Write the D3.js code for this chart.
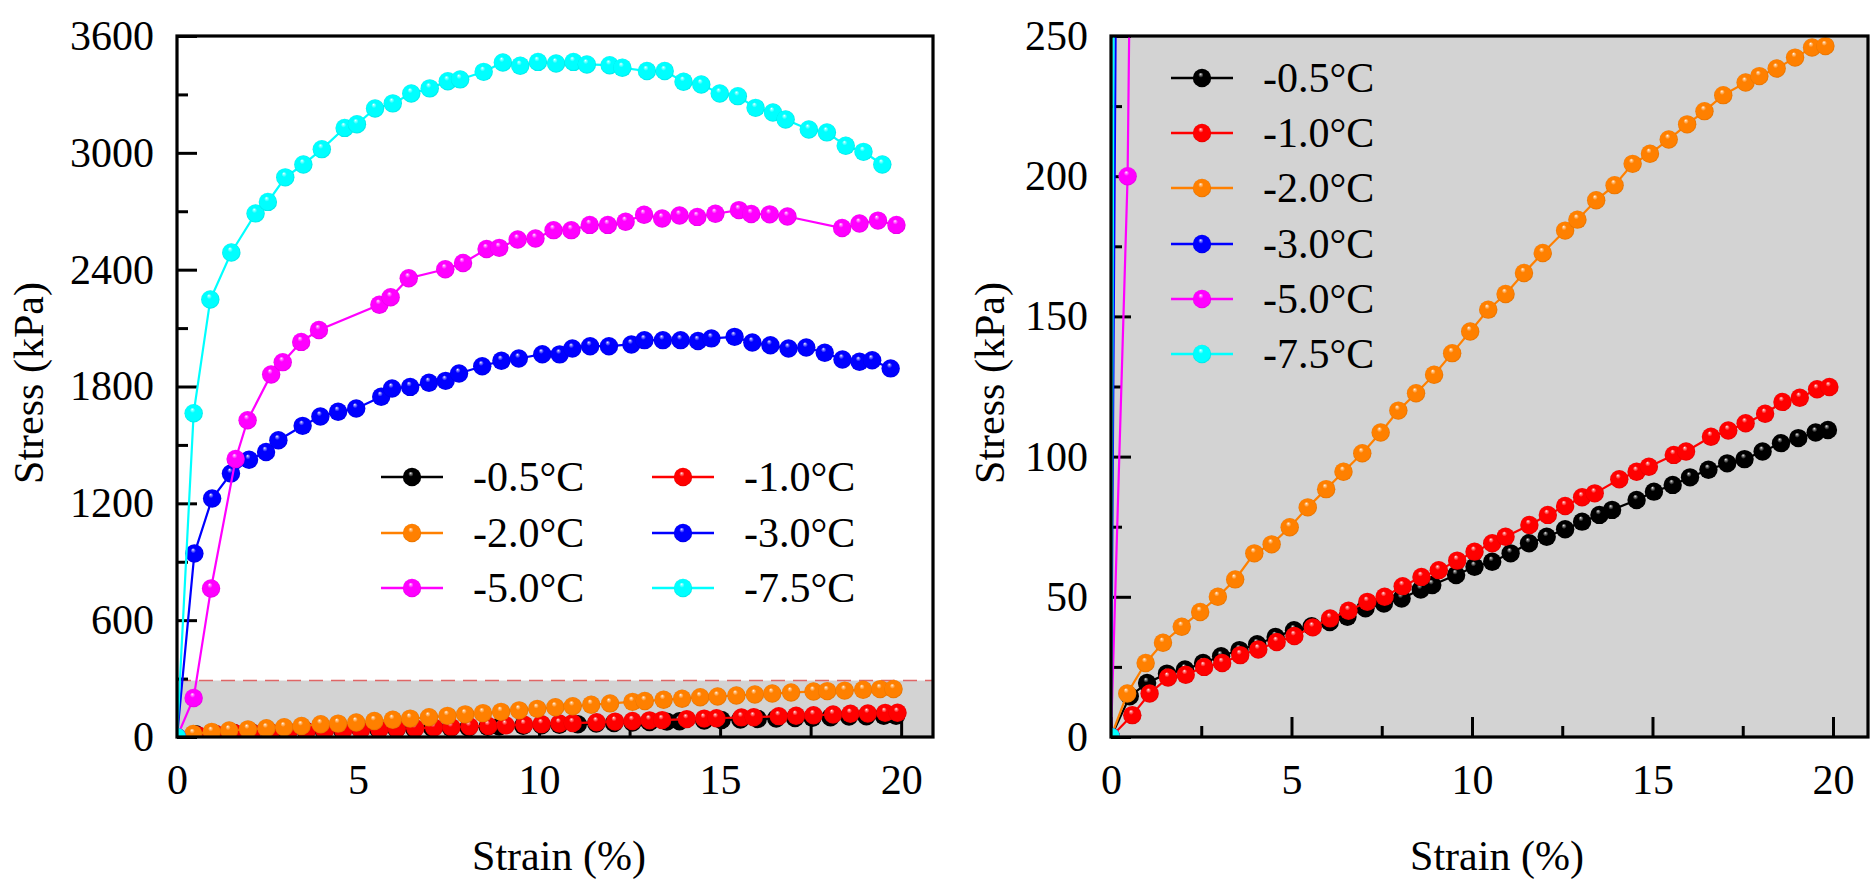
<!DOCTYPE html>
<html>
<head>
<meta charset="utf-8">
<script src="https://cdn.jsdelivr.net/npm/d3@7"></script>
<style>
html,body{margin:0;padding:0;background:#fff;}
svg{display:block;}
</style>
</head>
<body>
<svg id="chart" width="1873" height="885"></svg>
<script>
// ---------------- DATA ----------------
const seriesLabels = ["-0.5\u00B0C", "-1.0\u00B0C", "-2.0\u00B0C", "-3.0\u00B0C", "-5.0\u00B0C", "-7.5\u00B0C"];
const seriesColors = ["#000000", "#ff0000", "#ff8000", "#0000ff", "#ff00ff", "#00ffff"];

const strainM05 = [0, 0.52, 1.0, 1.55, 2.05, 2.55, 3.05, 3.56, 4.05, 4.56, 5.07, 5.56, 6.06, 6.55, 7.05, 7.56, 8.05, 8.58, 8.9, 9.56, 10.07, 10.56, 11.07, 11.58, 12.07, 12.58, 13.05, 13.53, 13.88, 14.56, 15.04, 15.56, 16.04, 16.55, 17.07, 17.55, 18.05, 18.56, 19.04, 19.52, 19.86];
const stressM05 = [0, 14.5, 19.3, 22.6, 24.1, 26.4, 28.8, 31.0, 33.1, 35.7, 38.1, 39.5, 41.0, 42.9, 45.9, 47.6, 49.4, 52.6, 54.2, 57.8, 60.7, 62.5, 65.5, 69.1, 71.4, 74.1, 76.8, 79.2, 81.0, 84.5, 87.5, 89.9, 92.6, 95.3, 97.6, 99.1, 101.8, 104.8, 106.6, 108.6, 109.5];

const strainM10 = [0, 0.59, 1.07, 1.58, 2.07, 2.58, 3.08, 3.58, 4.08, 4.59, 5.08, 5.59, 6.07, 6.58, 7.1, 7.58, 8.08, 8.6, 9.08, 9.59, 10.07, 10.56, 10.93, 11.59, 12.1, 12.58, 13.05, 13.4, 14.08, 14.56, 14.9, 15.59, 15.93, 16.62, 17.1, 17.58, 18.12, 18.6, 19.08, 19.56, 19.9];
const stressM10 = [0, 7.8, 15.5, 21.2, 22.2, 25.0, 26.4, 29.2, 31.2, 33.9, 36.0, 39.1, 42.3, 45.0, 48.2, 50.0, 53.8, 57.1, 59.5, 62.9, 66.1, 69.1, 71.4, 75.6, 79.2, 82.4, 85.5, 86.9, 91.9, 94.6, 96.4, 100.6, 101.8, 107.1, 109.3, 111.9, 115.3, 119.5, 121.0, 124.0, 124.8];

const strainM20 = [0, 0.45, 0.96, 1.44, 1.96, 2.47, 2.96, 3.44, 3.97, 4.45, 4.95, 5.45, 5.96, 6.44, 6.96, 7.47, 7.96, 8.45, 8.95, 9.45, 9.95, 10.45, 10.93, 11.44, 11.96, 12.58, 12.92, 13.44, 13.95, 14.45, 14.93, 15.45, 15.96, 16.44, 16.96, 17.58, 17.96, 18.44, 18.95, 19.42, 19.79];
const stressM20 = [0, 15.5, 26.4, 33.6, 39.3, 44.6, 50.0, 56.2, 65.5, 68.7, 74.8, 81.9, 88.4, 94.6, 101.2, 108.6, 116.4, 122.6, 129.2, 136.9, 144.6, 152.4, 158.0, 165.5, 172.6, 180.6, 184.5, 191.4, 196.8, 204.4, 208.0, 213.1, 218.5, 223.2, 228.9, 233.4, 235.7, 238.4, 242.3, 245.9, 246.4];

const strainM30 = [0, 0.48, 0.97, 1.49, 1.99, 2.46, 2.8, 3.47, 3.96, 4.45, 4.95, 5.64, 5.94, 6.44, 6.96, 7.42, 7.79, 8.43, 8.96, 9.44, 10.09, 10.57, 10.92, 11.41, 11.93, 12.55, 12.91, 13.42, 13.91, 14.39, 14.76, 15.4, 15.89, 16.39, 16.89, 17.38, 17.89, 18.38, 18.85, 19.2, 19.71];
const stressM30 = [0, 942, 1225, 1353, 1424, 1464, 1524, 1598, 1646, 1670, 1687, 1747, 1790, 1798, 1819, 1829, 1867, 1904, 1932, 1944, 1966, 1965, 1995, 2007, 2007, 2016, 2038, 2038, 2038, 2034, 2047, 2055, 2026, 2012, 1995, 2000, 1973, 1939, 1927, 1935, 1893];

const strainM50 = [0, 0.46, 0.94, 1.62, 1.95, 2.6, 2.92, 3.43, 3.92, 5.59, 5.9, 6.4, 7.41, 7.9, 8.55, 8.9, 9.41, 9.9, 10.4, 10.89, 11.4, 11.9, 12.39, 12.9, 13.4, 13.88, 14.37, 14.87, 15.52, 15.86, 16.37, 16.86, 18.37, 18.85, 19.36, 19.87];
const stressM50 = [0, 200, 763, 1428, 1627, 1862, 1925, 2029, 2090, 2220, 2258, 2356, 2402, 2434, 2506, 2512, 2555, 2560, 2603, 2603, 2630, 2630, 2646, 2682, 2663, 2678, 2671, 2687, 2706, 2686, 2684, 2673, 2614, 2637, 2652, 2630];

const strainM75 = [0, 0.46, 0.92, 1.5, 2.17, 2.51, 2.99, 3.49, 4.0, 4.63, 4.97, 5.47, 5.96, 6.47, 6.98, 7.48, 7.82, 8.47, 9.0, 9.48, 9.97, 10.47, 10.95, 11.32, 11.95, 12.3, 12.98, 13.47, 13.99, 14.48, 14.99, 15.49, 15.98, 16.46, 16.81, 17.45, 17.95, 18.47, 18.96, 19.48];
const stressM75 = [0, 1663, 2247, 2488, 2689, 2748, 2874, 2940, 3019, 3128, 3147, 3228, 3254, 3305, 3331, 3368, 3377, 3416, 3464, 3447, 3467, 3459, 3467, 3454, 3450, 3437, 3420, 3420, 3365, 3351, 3305, 3291, 3231, 3207, 3171, 3120, 3105, 3036, 3005, 2940];

const xMajorTicks = [0, 5, 10, 15, 20];
const xMinorTicks = [2.5, 7.5, 12.5, 17.5];
const yMajorLeft = [0, 600, 1200, 1800, 2400, 3000, 3600];
const yMinorLeft = [300, 900, 1500, 2100, 2700, 3300];
const yMajorRight = [0, 50, 100, 150, 200, 250];
const yMinorRight = [25, 75, 125, 175, 225];
const zoomLimit = 290; // kPa, shaded zoom region in left panel

const xTitle = "Strain (%)";
const yTitle = "Stress (kPa)";

// ---------------- BUILD ----------------
const strains = [strainM05, strainM10, strainM20, strainM30, strainM50, strainM75];
const stresses = [stressM05, stressM10, stressM20, stressM30, stressM50, stressM75];
const series = seriesLabels.map((lab, i) => ({
  label: lab, color: seriesColors[i],
  pts: strains[i].map((s, j) => ({x: s, y: stresses[i][j]}))
}));

const FFAM = '"Liberation Serif", "Times New Roman", serif';
const svg = d3.select("#chart");
const defs = svg.append("defs");
const FONT = 42;

function styleText(sel) {
  return sel.attr("font-family", FFAM).style("font-family", FFAM)
    .attr("font-size", FONT).style("font-size", FONT + "px").attr("fill", "#000");
}

series.forEach((s, i) => {
  const c = d3.color(s.color);
  const g = defs.append("radialGradient").attr("id", "ball" + i)
    .attr("cx", "0.5").attr("cy", "0.52").attr("r", "0.55")
    .attr("fx", "0.42").attr("fy", "0.28");
  const light = i === 0 ? "#8a8a8a" : d3.interpolateRgb(s.color, "#ffffff")(0.55);
  g.append("stop").attr("offset", "0%").attr("stop-color", "#ffffff");
  g.append("stop").attr("offset", "9%").attr("stop-color", light);
  g.append("stop").attr("offset", "26%").attr("stop-color", s.color);
  g.append("stop").attr("offset", "80%").attr("stop-color", s.color);
  g.append("stop").attr("offset", "100%").attr("stop-color", i === 0 ? "#000" : c.darker(0.6).formatHex());
});

function drawPanel(cfg) {
  const {id, left, top, width, height, xMax, yMax, yMajor, yMinor, bg} = cfg;
  const g = svg.append("g").attr("transform", `translate(${left},${top})`);
  const x = d3.scaleLinear().domain([0, xMax]).range([0, width]);
  const y = d3.scaleLinear().domain([0, yMax]).range([height, 0]);

  defs.append("clipPath").attr("id", "clip" + id)
    .append("rect").attr("x", 0).attr("y", 0).attr("width", width).attr("height", height);

  if (bg) {
    g.append("rect").attr("x", 0).attr("y", 0).attr("width", width).attr("height", height).attr("fill", "#d3d3d3");
  }
  if (cfg.zoomBox) {
    g.append("rect").attr("x", 0).attr("y", y(zoomLimit)).attr("width", width)
      .attr("height", y(0) - y(zoomLimit)).attr("fill", "#d3d3d3");
    g.append("line").attr("x1", 0).attr("x2", width).attr("y1", y(zoomLimit)).attr("y2", y(zoomLimit))
      .attr("stroke", "#e06666").attr("stroke-width", 1.6).attr("stroke-dasharray", "14,8");
  }

  // axes (ticks inward)
  g.append("g").attr("transform", `translate(0,${height})`)
    .call(d3.axisBottom(x).tickValues(xMajorTicks).tickSize(-20).tickPadding(27).tickFormat(d3.format("d")));
  g.append("g").attr("transform", `translate(0,${height})`)
    .call(d3.axisBottom(x).tickValues(xMinorTicks).tickSize(-11).tickFormat(""));
  g.append("g")
    .call(d3.axisLeft(y).tickValues(yMajor).tickSize(-20).tickPadding(23).tickFormat(d3.format("d")));
  g.append("g").call(d3.axisLeft(y).tickValues(yMinor).tickSize(-11).tickFormat(""));
  g.selectAll(".domain").remove();
  g.selectAll(".tick line").attr("stroke", "#000").attr("stroke-width", 3);
  styleText(g.selectAll(".tick text"));

  // data
  const plot = g.append("g").attr("clip-path", `url(#clip${id})`);
  const line = d3.line().x(d => x(d.x)).y(d => y(d.y));
  series.forEach((s, i) => {
    const sg = plot.append("g");
    sg.append("path").datum(s.pts).attr("d", line).attr("fill", "none")
      .attr("stroke", s.color).attr("stroke-width", 2.2);
    sg.selectAll("circle").data(s.pts).join("circle")
      .attr("cx", d => x(d.x)).attr("cy", d => y(d.y)).attr("r", 9.2)
      .attr("fill", `url(#ball${i})`);
  });

  // frame
  g.append("rect").attr("x", 0).attr("y", 0).attr("width", width).attr("height", height)
    .attr("fill", "none").attr("stroke", "#000").attr("stroke-width", 3.2);

  // titles
  styleText(g.append("text").attr("x", cfg.xTitleX - left).attr("y", 870 - top)
    .attr("text-anchor", "middle")).text(xTitle);
  styleText(g.append("text").attr("transform", `translate(${cfg.yTitleX - left},${383 - top}) rotate(-90)`)
    .attr("text-anchor", "middle").attr("dy", "0.33em")).text(yTitle);

  // legend
  const lg = svg.append("g");
  cfg.legendPos.forEach((p, i) => {
    const s = series[i];
    lg.append("line").attr("x1", p[0]).attr("x2", p[0] + 62).attr("y1", p[1]).attr("y2", p[1])
      .attr("stroke", s.color).attr("stroke-width", 2.6);
    lg.append("circle").attr("cx", p[0] + 31).attr("cy", p[1]).attr("r", 9.2).attr("fill", `url(#ball${i})`);
    styleText(lg.append("text").attr("x", p[0] + 92).attr("y", p[1]).attr("dy", "0.34em")).text(s.label);
  });
}

drawPanel({
  id: "L", left: 177, top: 36, width: 756, height: 701, xMax: 20.88, yMax: 3600,
  yMajor: yMajorLeft, yMinor: yMinorLeft, bg: false, zoomBox: true,
  xTitleX: 559, yTitleX: 29,
  legendPos: [[381, 477], [652, 477], [381, 533], [652, 533], [381, 588], [652, 588]]
});
drawPanel({
  id: "R", left: 1111, top: 36, width: 757, height: 701, xMax: 20.97, yMax: 250,
  yMajor: yMajorRight, yMinor: yMinorRight, bg: true, zoomBox: false,
  xTitleX: 1497, yTitleX: 990,
  legendPos: [[1171, 78], [1171, 133], [1171, 188], [1171, 244], [1171, 299], [1171, 354]]
});
</script>
</body>
</html>
